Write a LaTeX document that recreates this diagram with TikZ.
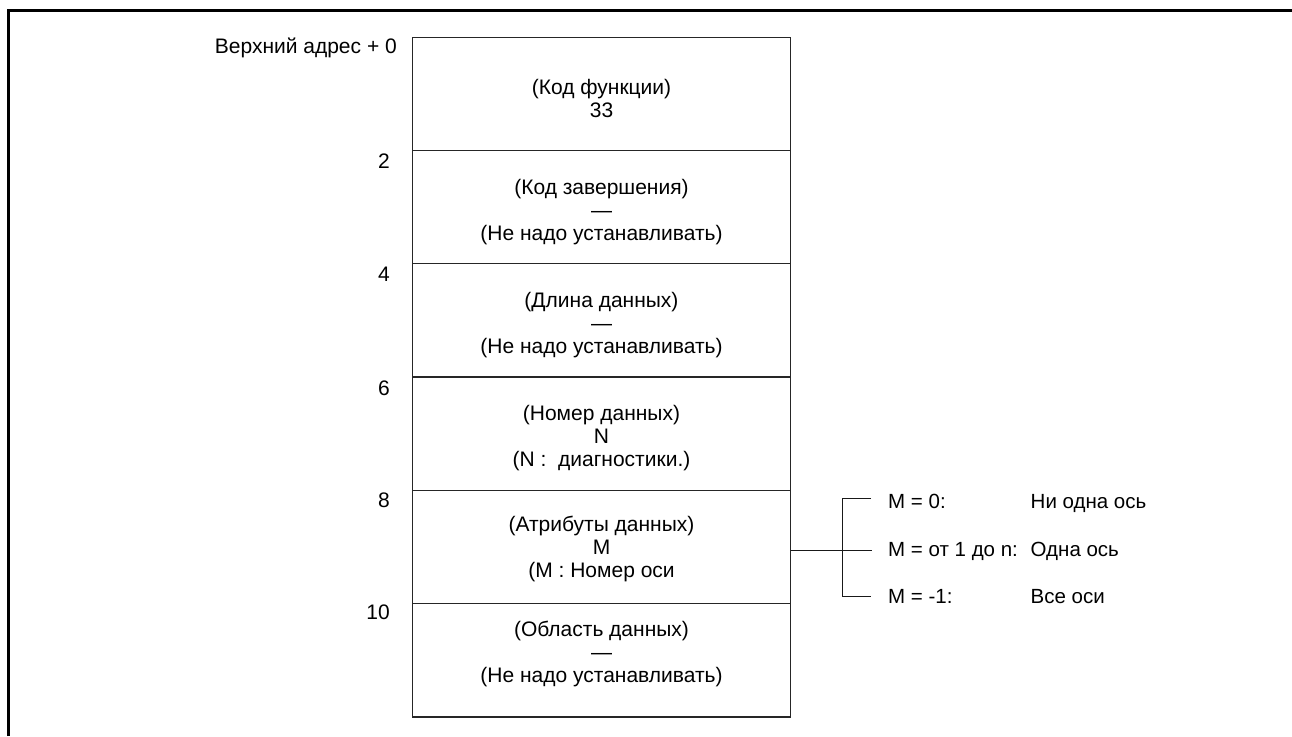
\documentclass[tikz,border=0pt]{standalone}
\usepackage{fontspec}
\setmainfont{Liberation Sans}
\begin{document}
\begin{tikzpicture}[x=1pt,y=-1pt,
  rowbox/.style={draw=black!85,line width=1.3pt,minimum width=378pt,minimum height=113.3pt,inner sep=0pt,outer sep=0pt},
  txt/.style={font=\fontsize{21}{23}\selectfont,align=center,inner sep=0pt},
  lbl/.style={font=\fontsize{21}{23}\selectfont,anchor=base east,inner sep=0pt},
  itm/.style={font=\fontsize{20.5}{23}\selectfont,anchor=base west,inner sep=0pt},
  conn/.style={line width=1pt,black!90}]
\useasboundingbox (0,0) rectangle (1292,736);
\draw[line width=3pt] (8.5,736) -- (8.5,10.5) -- (1292,10.5);
% rows
\node[rowbox] (r1) at (601.5,93.8) {};
\node[rowbox] (r2) at (601.5,207.1) {};
\node[rowbox] (r3) at (601.5,320.4) {};
\node[rowbox] (r4) at (601.5,433.7) {};
\node[rowbox] (r5) at (601.5,547.0) {};
\node[rowbox] (r6) at (601.5,660.3) {};
% texts
\node[txt] (t1) at (601.5,98.5) {(Код функции)\\33};
\node[txt] (t2) at (601.5,212) {(Код завершения)\\—\\(Не надо устанавливать)};
\node[txt] (t3) at (601.5,325) {(Длина данных)\\—\\(Не надо устанавливать)};
\node[txt] (t4) at (601.5,438.5) {(Номер данных)\\N\\(N :\ \ диагностики.)};
\node[txt] (t5) at (601.5,549) {(Атрибуты данных)\\M\\(M : Номер оси};
\node[txt] (t6) at (601.5,653.5) {(Область данных)\\—\\(Не надо устанавливать)};
% address labels
\node[lbl] (a0) at (397,53.5) {Верхний адрес + 0};
\node[lbl] (a2) at (390,168) {2};
\node[lbl] (a4) at (390,281.5) {4};
\node[lbl] (a6) at (390,395) {6};
\node[lbl] (a8) at (390,507.5) {8};
\node[lbl] (a10) at (390,619) {10};
% bracket
\coordinate (bm) at (842,550);
\coordinate (bt) at (842,498);
\coordinate (bb) at (842,596);
\coordinate (et) at (871,498);
\coordinate (em) at (872,550);
\coordinate (eb) at (871,596);
\draw[conn] (r5.east |- bm) -- (em);
\draw[conn] (et) -- (bt) -- (bb) -- (eb);
% items
\node[itm] (m1) at (888,508) {M = 0:};
\node[itm] (m2) at (888,556) {M = от 1 до n:};
\node[itm] (m3) at (888,603) {M = -1:};
\node[itm] (d1) at (1030.5,508) {Ни одна ось};
\node[itm] (d2) at (1030.5,556) {Одна ось};
\node[itm] (d3) at (1030.5,603) {Все оси};
\end{tikzpicture}
\end{document}
